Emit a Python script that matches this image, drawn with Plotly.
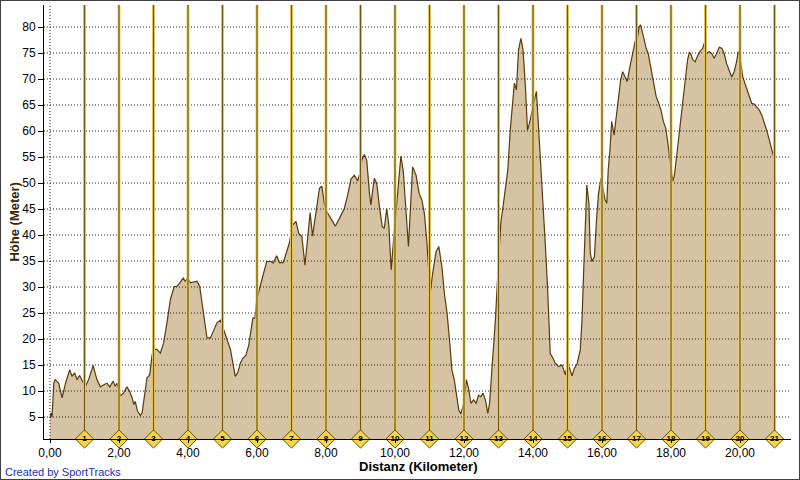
import plotly.graph_objects as go

# ---- data ----
dist = [0.00, 0.03, 0.06, 0.11, 0.15, 0.25, 0.35, 0.45, 0.57, 0.64, 0.71, 0.78, 0.86, 0.96,
        1.02, 1.12, 1.25, 1.36, 1.46, 1.56, 1.65, 1.73, 1.83, 1.89, 1.94, 1.99,
        2.04, 2.14, 2.23, 2.31, 2.38, 2.43, 2.47, 2.54, 2.62, 2.67, 2.73, 2.81, 2.89, 2.96,
        3.02, 3.10, 3.20, 3.29, 3.39, 3.49, 3.60, 3.68, 3.76, 3.86, 3.92, 3.99,
        4.07, 4.16, 4.26, 4.34, 4.43, 4.55, 4.65, 4.74, 4.84, 4.94,
        5.03, 5.13, 5.23, 5.30, 5.37, 5.44, 5.52, 5.59, 5.68, 5.76, 5.83, 5.88, 5.94, 5.99,
        6.09, 6.18, 6.28, 6.41, 6.47, 6.57, 6.65, 6.76, 6.84, 6.94,
        7.03, 7.13, 7.21, 7.30, 7.39, 7.47, 7.54, 7.61, 7.71, 7.81, 7.88, 7.95,
        8.02, 8.14, 8.27, 8.39, 8.53, 8.63, 8.72, 8.82, 8.92, 8.99,
        9.04, 9.11, 9.18, 9.26, 9.30, 9.40, 9.47, 9.55, 9.63, 9.69, 9.76, 9.82, 9.89, 9.95,
        10.03, 10.11, 10.17, 10.24, 10.32, 10.39, 10.44, 10.51, 10.61, 10.70, 10.78, 10.85, 10.92, 10.98,
        11.02, 11.09, 11.19, 11.27, 11.36, 11.43, 11.51, 11.58, 11.65, 11.72, 11.78, 11.85, 11.91, 11.99,
        12.07, 12.14, 12.20, 12.28, 12.35, 12.42, 12.49, 12.55, 12.62, 12.69, 12.74, 12.81, 12.91,
        13.00, 13.07, 13.13, 13.20, 13.27, 13.34, 13.42, 13.46, 13.52, 13.58, 13.65, 13.71, 13.78, 13.84, 13.90, 13.97,
        14.04, 14.10, 14.16, 14.26, 14.36, 14.42, 14.50, 14.58, 14.65, 14.74, 14.84, 14.94,
        15.00, 15.08, 15.13, 15.20, 15.28, 15.37, 15.42, 15.47, 15.52, 15.56, 15.62, 15.66, 15.71, 15.78, 15.84, 15.90, 15.97,
        16.02, 16.09, 16.14, 16.18, 16.23, 16.28, 16.35, 16.41, 16.47, 16.54, 16.60, 16.67, 16.73, 16.81, 16.89, 16.96,
        17.02, 17.08, 17.12, 17.20, 17.28, 17.34, 17.41, 17.49, 17.57, 17.63, 17.71, 17.78, 17.85, 17.91, 17.96,
        18.00, 18.05, 18.10, 18.16, 18.23, 18.29, 18.36, 18.43, 18.48, 18.53, 18.57, 18.63, 18.70, 18.76, 18.84, 18.92, 18.99,
        19.03, 19.11, 19.18, 19.25, 19.32, 19.40, 19.47, 19.54, 19.61, 19.69, 19.76, 19.83, 19.90, 19.95,
        20.00, 20.08, 20.14, 20.21, 20.29, 20.34, 20.41, 20.48, 20.56, 20.63, 20.70, 20.77, 20.85, 20.92, 20.97]

elev = [4.8, 5.8, 5.0, 11.5, 12.2, 11.5, 8.7, 11.5, 14.1, 12.8, 13.5, 12.2, 13.0, 11.5,
        10.8, 12.2, 14.9, 12.2, 10.8, 11.2, 11.5, 10.8, 11.9, 10.9, 11.5, 10.4,
        9.0, 9.7, 10.8, 9.9, 8.7, 7.4, 8.0, 6.1, 5.3, 5.8, 9.0, 12.5, 13.1, 17.0,
        18.0, 18.0, 17.3, 19.2, 23.1, 27.6, 30.1, 30.1, 30.8, 31.7, 31.1, 31.7,
        30.8, 30.9, 31.1, 30.1, 25.6, 20.2, 20.2, 21.5, 23.1, 23.6,
        21.8, 20.2, 18.0, 15.4, 12.8, 13.5, 15.4, 16.3, 16.9, 18.8, 21.7, 24.0, 24.0, 27.5,
        30.1, 32.6, 34.9, 34.9, 34.6, 36.0, 34.7, 34.7, 36.5, 38.5,
        41.9, 42.6, 40.3, 39.7, 34.2, 39.0, 44.3, 39.8, 44.2, 49.0, 49.4, 46.1,
        44.5, 43.2, 41.7, 43.2, 45.1, 47.7, 50.7, 51.5, 50.4, 52.2,
        54.4, 55.5, 54.4, 48.0, 45.8, 50.9, 49.9, 45.4, 41.6, 41.3, 45.1, 41.9, 33.3, 38.4,
        44.2, 49.9, 55.2, 52.2, 44.2, 37.8, 44.2, 53.1, 51.5, 48.0, 46.7, 44.2, 39.0, 32.6,
        28.8, 32.6, 36.8, 37.8, 33.9, 28.8, 24.9, 19.8, 14.0, 12.1, 9.6, 6.3, 5.6, 7.6,
        12.2, 10.2, 7.6, 8.3, 7.6, 9.2, 8.9, 9.6, 8.3, 5.7, 7.6, 14.0, 23.7,
        35.2, 42.6, 45.4, 49.6, 52.5, 60.2, 65.3, 69.2, 67.9, 75.6, 77.8, 75.6, 68.5, 60.2, 61.5, 64.0,
        66.0, 67.6, 60.8, 51.2, 37.8, 30.1, 17.2, 16.3, 15.3, 14.7, 15.0, 13.1,
        15.3, 14.0, 12.9, 14.4, 15.3, 17.9, 23.7, 33.3, 41.6, 49.6, 46.1, 36.5, 34.9, 35.8, 42.9, 48.0, 50.9,
        49.3, 46.7, 46.1, 52.5, 56.3, 61.8, 59.2, 62.8, 66.0, 69.8, 71.4, 70.4, 69.5, 72.4, 75.3, 77.2,
        77.8, 80.1, 80.4, 78.1, 75.9, 74.9, 72.4, 68.8, 66.6, 65.6, 64.0, 61.8, 60.5, 57.6, 55.1,
        53.1, 50.3, 51.5, 55.1, 58.9, 62.1, 67.2, 71.7, 73.7, 75.1, 74.9, 73.7, 73.3, 74.3, 75.3, 75.9, 77.4,
        74.9, 75.3, 74.9, 74.0, 74.9, 76.1, 75.9, 74.9, 73.0, 71.4, 70.4, 71.4, 73.3, 75.3,
        74.3, 70.4, 69.2, 67.9, 66.3, 65.3, 65.2, 64.7, 64.0, 63.1, 61.8, 60.2, 58.3, 56.7, 55.1]

km_markers = list(range(1, 22))
x_ticks = [0, 2, 4, 6, 8, 10, 12, 14, 16, 18, 20]
y_ticks = [5, 10, 15, 20, 25, 30, 35, 40, 45, 50, 55, 60, 65, 70, 75, 80]

X_RANGE = [-0.174, 21.478]
Y_RANGE = [0.77, 84.23]

FONT = "Liberation Sans, Arial, sans-serif"
GRID = dict(color="#222222", width=1, dash="1px,2px")

fig = go.Figure()

# elevation profile
fig.add_trace(go.Scatter(x=dist, y=elev, mode="lines", fill="tozeroy",
                         fillcolor="#d5c3a3", line=dict(color="#5c3a0a", width=1.2),
                         hoverinfo="skip", showlegend=False))

# dotted grid drawn above the fill (one trace per grid line)
for t in y_ticks:
    fig.add_trace(go.Scatter(x=X_RANGE, y=[t, t], mode="lines", line=GRID,
                             hoverinfo="skip", showlegend=False))
for t in x_ticks:
    fig.add_trace(go.Scatter(x=[t, t], y=Y_RANGE, mode="lines", line=GRID,
                             hoverinfo="skip", showlegend=False))

# km lap lines
kx, ky = [], []
for k in km_markers:
    kx += [k, k, None]
    ky += [Y_RANGE[0], Y_RANGE[1], None]
fig.add_trace(go.Scatter(x=kx, y=ky, mode="lines", line=dict(color="#ecd06a", width=3),
                         hoverinfo="skip", showlegend=False))
fig.add_trace(go.Scatter(x=kx, y=ky, mode="lines", line=dict(color="#705400", width=1.2),
                         hoverinfo="skip", showlegend=False))

# km diamonds
fig.add_trace(go.Scatter(x=km_markers, y=[Y_RANGE[0]] * len(km_markers), mode="markers+text",
                         marker=dict(symbol="diamond", size=14, color="#f2d54a",
                                     line=dict(color="#6b5000", width=1)),
                         text=["<b>%d</b>" % k for k in km_markers], textposition="middle center",
                         textfont=dict(size=8, color="#000000", family=FONT),
                         cliponaxis=False, hoverinfo="skip", showlegend=False))

fig.update_layout(
    width=800, height=480,
    margin=dict(l=44, r=9, t=5, b=41),
    paper_bgcolor="white", plot_bgcolor="white",
    separators=",.",
    font=dict(family=FONT, size=12, color="black"),
    xaxis=dict(range=X_RANGE, tickvals=x_ticks, tickformat=".2f", showgrid=False, zeroline=False,
               showline=True, linecolor="black", linewidth=1, ticks="outside", ticklen=3,
               tickcolor="black", tickfont=dict(size=12, color="black", family=FONT)),
    yaxis=dict(range=Y_RANGE, tickvals=y_ticks, showgrid=False, zeroline=False,
               showline=True, linecolor="black", linewidth=1, ticks="outside", ticklen=5,
               tickcolor="black", tickfont=dict(size=12, color="black", family=FONT)),
    annotations=[
        dict(text="<b>Distanz (Kilometer)</b>", xref="paper", yref="paper", x=0.5, y=-0.0645,
             xanchor="center", yanchor="middle", showarrow=False,
             font=dict(size=13, color="black", family=FONT)),
        dict(text="<b>Höhe (Meter)</b>", xref="paper", yref="paper", x=-0.0408, y=0.5,
             xanchor="center", yanchor="middle", textangle=-90, showarrow=False,
             font=dict(size=13, color="#3a2600", family=FONT)),
        dict(text="Created by SportTracks", xref="paper", yref="paper", x=-0.0549, y=-0.076,
             xanchor="left", yanchor="middle", showarrow=False,
             font=dict(size=11, color="#1a2fc0", family=FONT)),
    ],
    shapes=[dict(type="rect", xref="paper", yref="paper", x0=-44 / 747, x1=1 + 9 / 747,
                 y0=-41 / 434, y1=1 + 5 / 434, line=dict(color="#404040", width=2),
                 layer="above")],
)

fig.write_html("out.html", config={"displayModeBar": False},
               post_script="document.body.style.margin='0';document.body.style.overflow='hidden';")
